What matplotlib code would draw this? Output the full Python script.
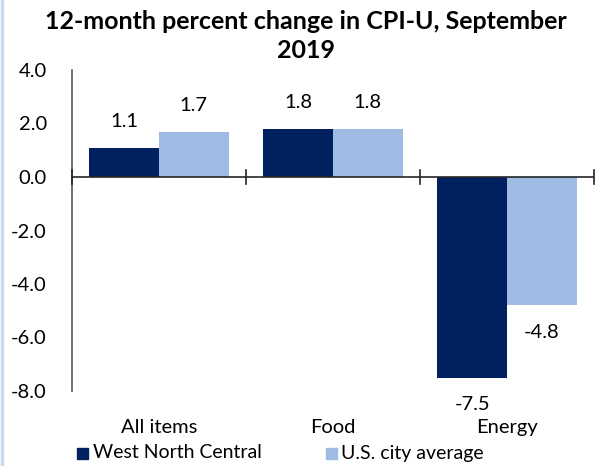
import matplotlib
matplotlib.use("Agg")
import matplotlib.pyplot as plt
from matplotlib.lines import Line2D
from matplotlib.patches import Rectangle
import numpy as np

categories = ["All items", "Food", "Energy"]
west_north_central = [1.1, 1.8, -7.5]
us_city_average = [1.7, 1.8, -4.8]
series_names = ["West North Central", "U.S. city average"]
y_ticks = [4.0, 2.0, 0.0, -2.0, -4.0, -6.0, -8.0]
title = "12-month percent change in CPI-U, September\n2019"

dark = "#002060"
light = "#9DBBE3"

plt.rcParams["font.family"] = ["Lato", "DejaVu Sans"]

fig = plt.figure(figsize=(5.95, 4.66), dpi=100)
ax = fig.add_axes([72 / 595, (466 - 391) / 466, (594 - 72) / 595, (391 - 70) / 466])

x = np.arange(len(categories))
w = 0.4
b1 = ax.bar(x - w / 2, west_north_central, width=w, color=dark, zorder=2)
b2 = ax.bar(x + w / 2, us_city_average, width=w, color=light, zorder=2)

ax.set_xlim(-0.5, len(categories) - 0.5)
ax.set_ylim(min(y_ticks), max(y_ticks))
ax.set_yticks(y_ticks)
ax.set_yticklabels([f"{v:.1f}" for v in y_ticks], fontsize=14.5)
ax.tick_params(axis="y", length=0, pad=18)

for s in ["top", "right", "bottom"]:
    ax.spines[s].set_visible(False)
ax.spines["left"].set_color("#595959")
ax.spines["left"].set_linewidth(1.2)

# zero axis line with boundary tick marks
ax.axhline(0, color="#262626", linewidth=1.2, zorder=3)
for bx in np.arange(len(categories) + 1) - 0.5:
    ax.plot([bx, bx], [-0.25, 0.25], color="#262626", linewidth=1.2, zorder=3, clip_on=False)

ax.set_xticks(x)
ax.set_xticklabels(categories, fontsize=14.5)
ax.tick_params(axis="x", length=0, pad=20)

for bars, vals in ((b1, west_north_central), (b2, us_city_average)):
    for rect, v in zip(bars, vals):
        cx = rect.get_x() + rect.get_width() / 2
        off = 26 if v >= 0 else -27
        ax.annotate(f"{v:.1f}", xy=(cx, v), xytext=(0, off), textcoords="offset pixels",
                    ha="center", va="center", fontsize=14.5, zorder=4)

fig.text(306 / 595, 1 - 36 / 466, title, ha="center", va="center", fontsize=18,
         fontweight="bold", linespacing=1.35)

# legend
leg_y = 1 - 453 / 466
for (sx, tx, name, col) in ((77, 93, series_names[0], dark), (326, 341, series_names[1], light)):
    fig.patches.append(Rectangle((sx / 595, leg_y - 5.5 / 466), 11 / 595, 11 / 466,
                                 transform=fig.transFigure, color=col, figure=fig))
    fig.text(tx / 595, leg_y, name, ha="left", va="center", fontsize=14)

fig.add_artist(Line2D([1.5 / 595, 1.5 / 595], [0, 1], color="#C6D9F1", linewidth=2.5,
                      transform=fig.transFigure))

fig.savefig("out.png", dpi=100)
